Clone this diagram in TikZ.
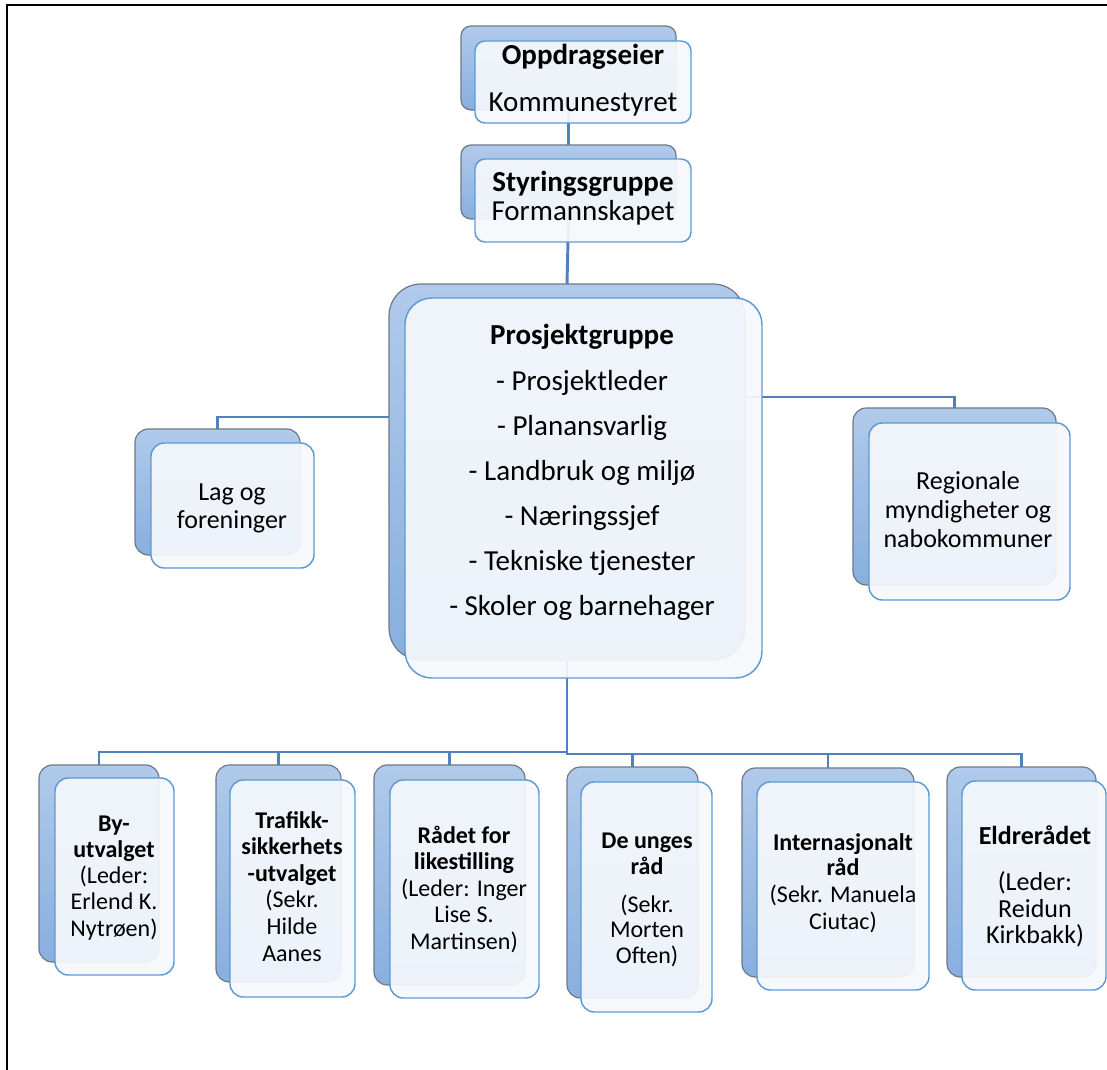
\documentclass[tikz,border=0pt]{standalone}
\usepackage{fontspec}
\setmainfont{Carlito}
\usetikzlibrary{fit,backgrounds}
\definecolor{connc}{HTML}{4F81BD}
\definecolor{backtop}{HTML}{B0CAEA}
\definecolor{backbot}{HTML}{88AFDF}
\definecolor{backedge}{HTML}{6E7884}
\definecolor{frontfill}{HTML}{F5F8FC}
\definecolor{frontedge}{HTML}{5B9BD5}
\newcommand{\fbig}{\fontsize{21.75}{26}\selectfont}
\newcommand{\fside}{\fontsize{19.5}{23}\selectfont}
\newcommand{\fsmall}{\fontsize{18}{21}\selectfont}
\begin{document}
\begin{tikzpicture}[x=0.75pt,y=-0.75pt,
  conn/.style={draw=connc, line width=2.2pt},
  backbox/.style={draw=backedge, line width=0.9pt, top color=backtop, bottom color=backbot, inner sep=0pt, outer sep=0pt},
  frontbox/.style={draw=frontedge, line width=1.1pt, fill=frontfill, fill opacity=0.93, inner sep=0pt, outer sep=0pt},
  lbl/.style={anchor=base, inner sep=0pt, outer sep=0pt, text=black},
  rtop/.style={rounded corners=7.5pt},
  rmid/.style={rounded corners=10pt},
  rbig/.style={rounded corners=24pt},
  rbigf/.style={rounded corners=20pt}]
\useasboundingbox (0,0) rectangle (1107,1070);
\clip (0,0) rectangle (1107,1070);
\draw[line width=1.3pt] (1130,5) -- (7,5) -- (7,1090);

% ---------- back shapes ----------
\node[backbox, rtop, fit={(461,26)(676,110)}] (opp) {};
\node[backbox, rtop, fit={(461,145)(676,219)}] (sty) {};
\node[backbox, rbig, fit={(389,284)(745,660)}] (pro) {};
\node[backbox, rmid, fit={(135,429)(300,555)}] (lag) {};
\node[backbox, rmid, fit={(853,408)(1056,585)}] (reg) {};
\node[backbox, rmid, fit={(39,765)(159,962)}] (by) {};
\node[backbox, rmid, fit={(216,765)(341,982)}] (traf) {};
\node[backbox, rmid, fit={(374,765)(525,985)}] (rad) {};
\node[backbox, rmid, fit={(567,767)(698,998)}] (ung) {};
\node[backbox, rmid, fit={(742,768)(914,977)}] (int) {};
\node[backbox, rmid, fit={(947,767)(1096,977)}] (eld) {};

% ---------- front shapes ----------
\node[frontbox, rtop, fit={(475,41)(691,123)}] (oppF) {};
\node[frontbox, rtop, fit={(475,159)(691,242)}] (styF) {};
\node[frontbox, rbigf, fit={(405,298)(762,678)}] (proF) {};
\node[frontbox, rmid, fit={(151,443)(314,568)}] (lagF) {};
\node[frontbox, rmid, fit={(869,423)(1070,600)}] (regF) {};
\node[frontbox, rmid, fit={(55,778)(174,975)}] (byF) {};
\node[frontbox, rmid, fit={(230,780)(355,997)}] (trafF) {};
\node[frontbox, rmid, fit={(390,780)(539,998)}] (radF) {};
\node[frontbox, rmid, fit={(581,782)(712,1012)}] (ungF) {};
\node[frontbox, rmid, fit={(757,782)(929,990)}] (intF) {};
\node[frontbox, rmid, fit={(962,781)(1106,990)}] (eldF) {};

% ---------- connectors ----------
\begin{scope}[on background layer]
\draw[conn] (opp.south) -- (sty.north);
\draw[conn] (sty.south) -- (pro.north);
\draw[conn] (lag.north) |- ([yshift=41.25pt]pro.west);
\draw[conn] (reg.north) |- ([yshift=56.25pt]pro.east);
\draw[conn] (pro.south) -- ++(0,92) -| (by.north);
\draw[conn] (pro.south) -- ++(0,92) -| (traf.north);
\draw[conn] (pro.south) -- ++(0,92) -| (rad.north);
\draw[conn] (pro.south) -- ++(0,94) -| (ung.north);
\draw[conn] (pro.south) -- ++(0,94) -| (int.north);
\draw[conn] (pro.south) -- ++(0,94) -| (eld.north);
\end{scope}

% ---------- texts ----------
\node[lbl, font=\fbig\bfseries] (oppT1) at (583,65) {Oppdragseier};
\node[lbl, font=\fbig] (oppT2) at (583,112) {Kommunestyret};

\node[lbl, font=\fbig\bfseries] (styT1) at (583,192) {Styringsgruppe};
\node[lbl, font=\fbig] (styT2) at (583,221) {Formannskapet};

\node[lbl, font=\fbig\bfseries] (proT1) at (582,344) {Prosjektgruppe};
\node[lbl, font=\fbig] (proT2) at (582,390) {- Prosjektleder};
\node[lbl, font=\fbig] (proT3) at (582,435) {- Planansvarlig};
\node[lbl, font=\fbig] (proT4) at (582,480) {- Landbruk og miljø};
\node[lbl, font=\fbig] (proT5) at (582,525) {- Næringssjef};
\node[lbl, font=\fbig] (proT6) at (582,570) {- Tekniske tjenester};
\node[lbl, font=\fbig] (proT7) at (582,615) {- Skoler og barnehager};

\node[lbl, font=\fside] (lagT1) at (232,500) {Lag og};
\node[lbl, font=\fside] (lagT2) at (232,528) {foreninger};

\node[lbl, font=\fside] (regT1) at (968,489) {Regionale};
\node[lbl, font=\fside] (regT2) at (968,518) {myndigheter og};
\node[lbl, font=\fside] (regT3) at (968,547) {nabokommuner};

\node[lbl, font=\fsmall\bfseries] (byT1) at (114,831) {By-};
\node[lbl, font=\fsmall\bfseries] (byT2) at (114,857) {utvalget};
\node[lbl, font=\fsmall] (byT3) at (114,883) {(Leder:};
\node[lbl, font=\fsmall] (byT4) at (114,909) {Erlend K.};
\node[lbl, font=\fsmall] (byT5) at (114,936) {Nytrøen)};

\node[lbl, font=\fsmall\bfseries] (trafT1) at (292,828) {Trafikk-};
\node[lbl, font=\fsmall\bfseries] (trafT2) at (292,854) {sikkerhets};
\node[lbl, font=\fsmall\bfseries] (trafT3) at (292,881) {-utvalget};
\node[lbl, font=\fsmall] (trafT4) at (292,907) {(Sekr.};
\node[lbl, font=\fsmall] (trafT5) at (292,934) {Hilde};
\node[lbl, font=\fsmall] (trafT6) at (292,961) {Aanes};

\node[lbl, font=\fsmall\bfseries] (radT1) at (464,843) {Rådet for};
\node[lbl, font=\fsmall\bfseries] (radT2) at (464,869) {likestilling};
\node[lbl, font=\fsmall] (radT3) at (464,896) {(Leder: Inger};
\node[lbl, font=\fsmall] (radT4) at (464,922) {Lise S.};
\node[lbl, font=\fsmall] (radT5) at (464,949) {Martinsen)};

\node[lbl, font=\fsmall\bfseries] (ungT1) at (647,848) {De unges};
\node[lbl, font=\fsmall\bfseries] (ungT2) at (647,874) {råd};
\node[lbl, font=\fsmall] (ungT3) at (647,912) {(Sekr.};
\node[lbl, font=\fsmall] (ungT4) at (647,937) {Morten};
\node[lbl, font=\fsmall] (ungT5) at (647,963) {Often)};

\node[lbl, font=\fsmall\bfseries] (intT1) at (843,850) {Internasjonalt};
\node[lbl, font=\fsmall\bfseries] (intT2) at (843,875) {råd};
\node[lbl, font=\fsmall] (intT3) at (843,902) {(Sekr. Manuela};
\node[lbl, font=\fsmall] (intT4) at (843,929) {Ciutac)};

\node[lbl, font=\fside\bfseries] (eldT1) at (1035,844) {Eldrerådet};
\node[lbl, font=\fside] (eldT2) at (1035,890) {(Leder:};
\node[lbl, font=\fside] (eldT3) at (1035,917) {Reidun};
\node[lbl, font=\fside] (eldT4) at (1035,943) {Kirkbakk)};
\end{tikzpicture}
\end{document}
